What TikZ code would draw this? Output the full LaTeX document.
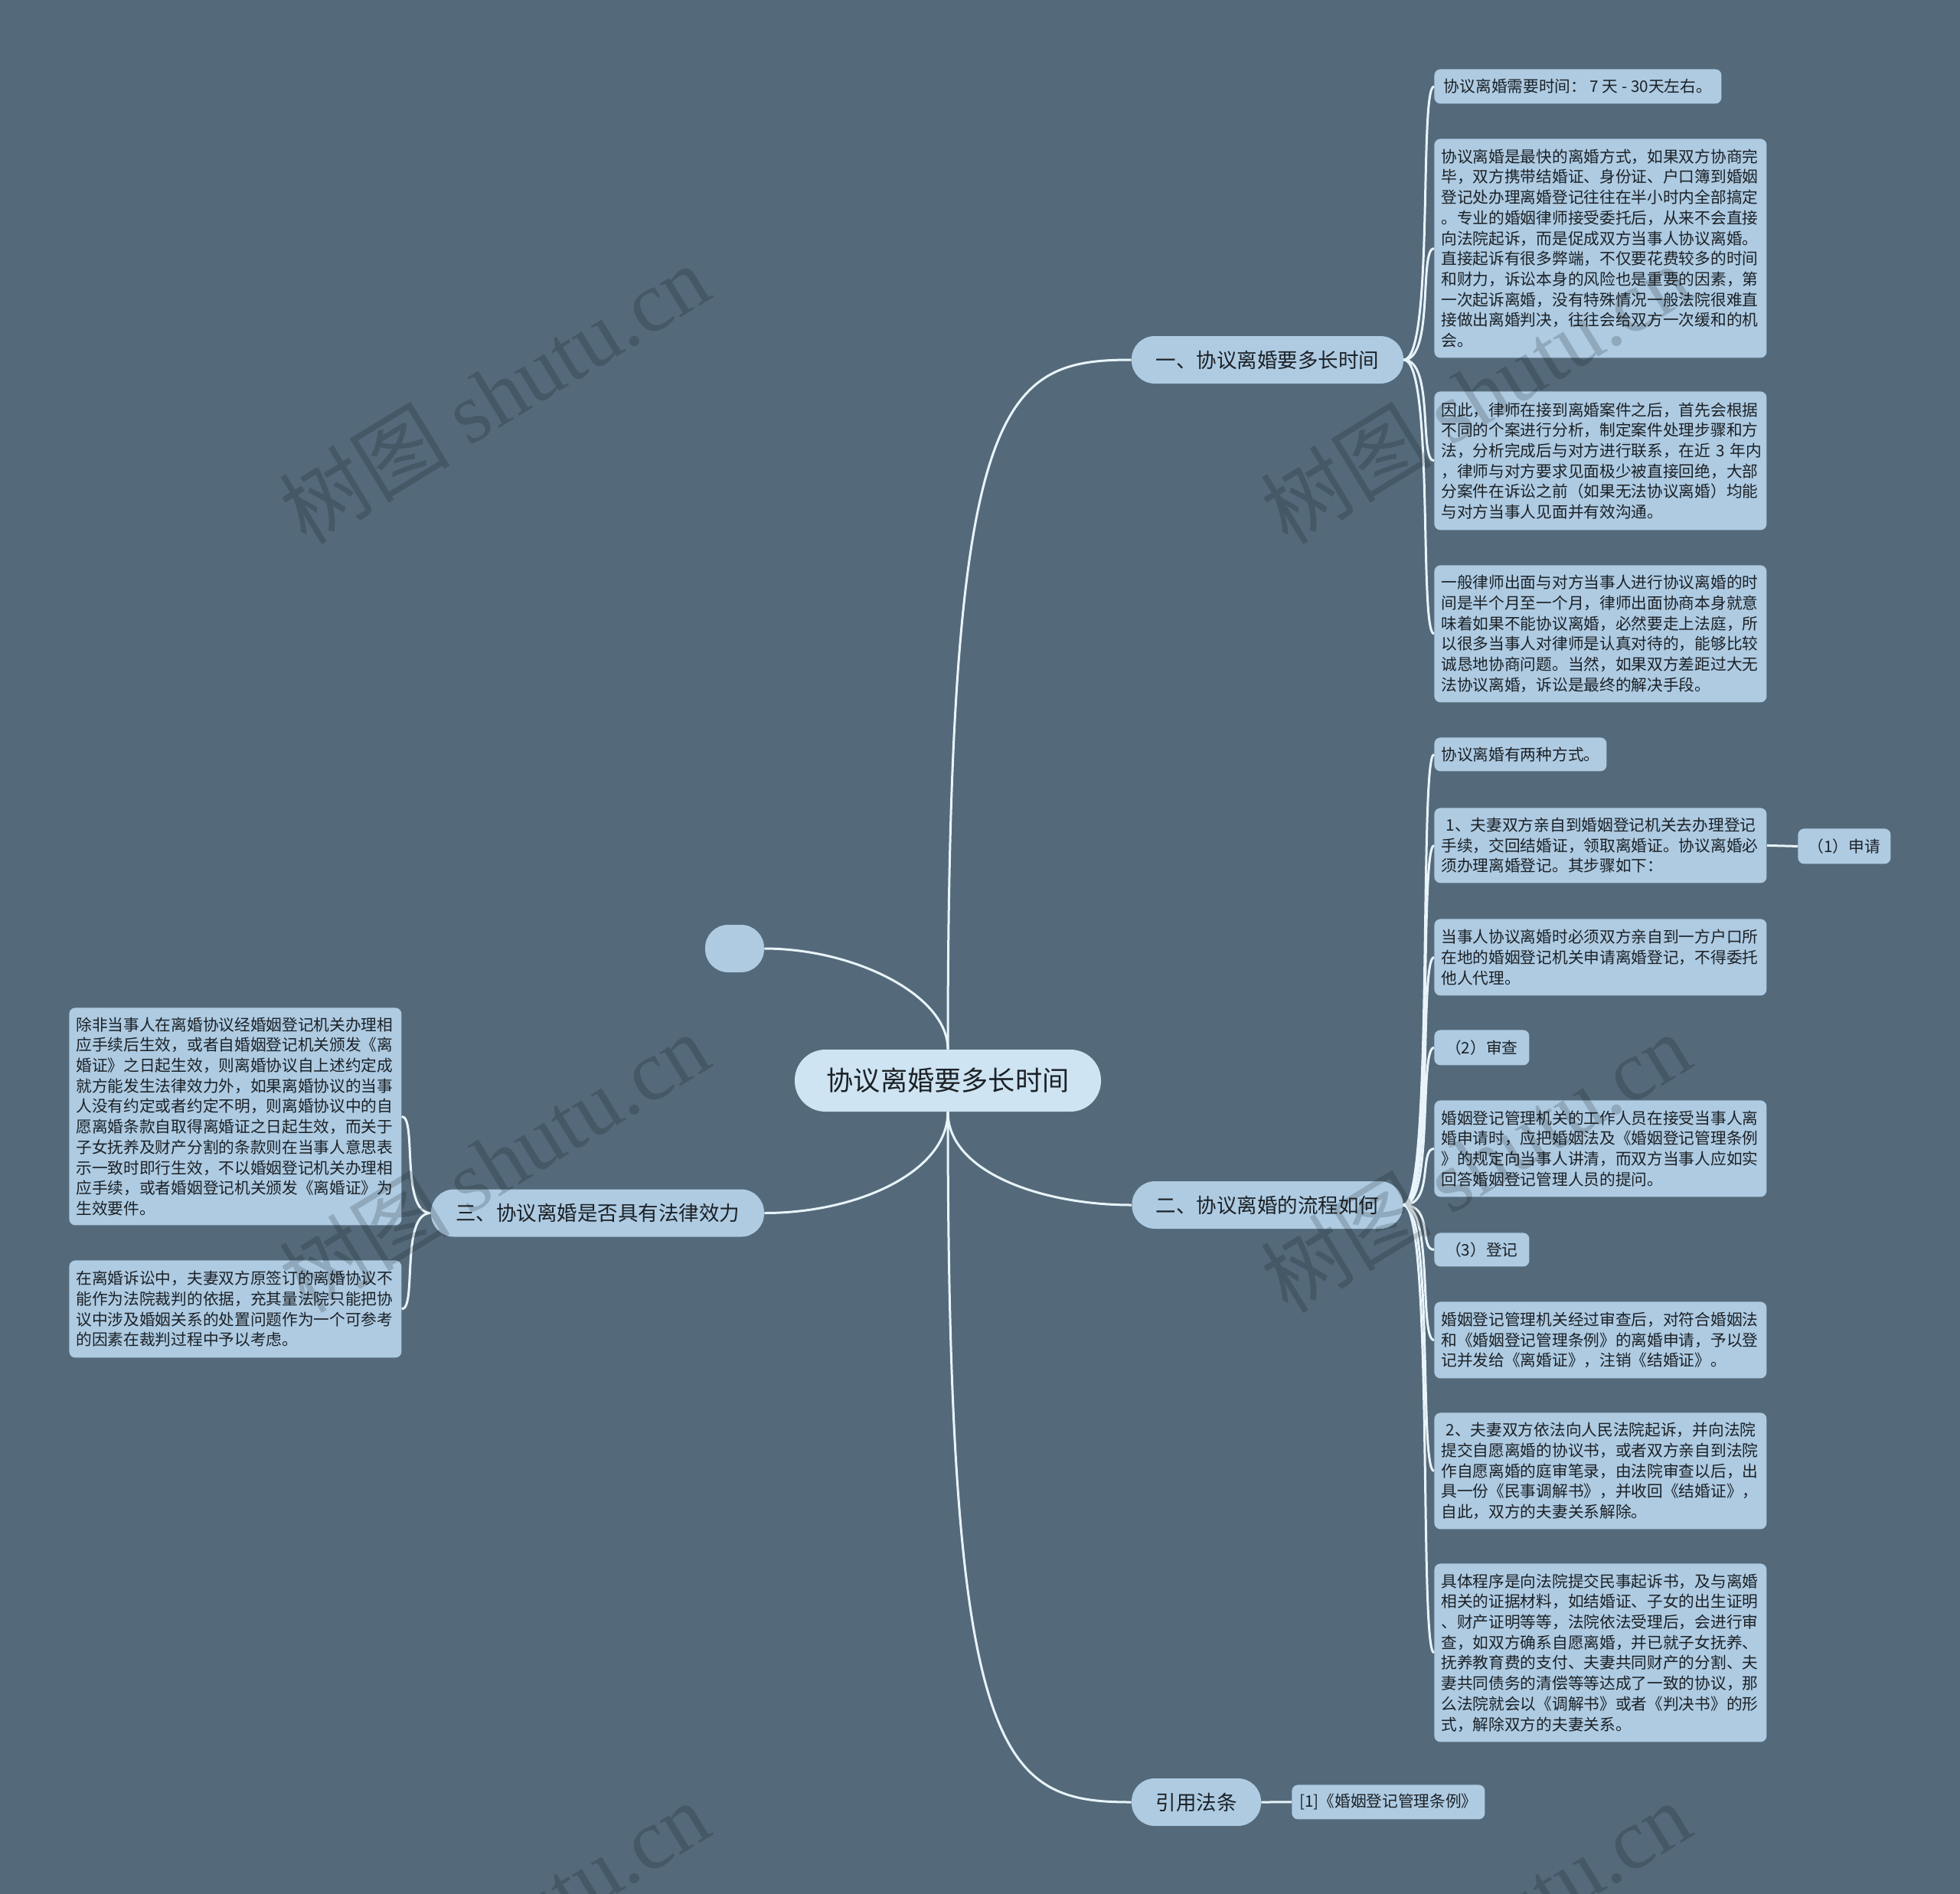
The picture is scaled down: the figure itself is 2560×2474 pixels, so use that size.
\documentclass[tikz,border=0pt]{standalone}
\usepackage{fontspec}
\setmainfont{Noto Sans CJK SC}
\newfontfamily\wmlat{Liberation Serif}
\definecolor{bgc}{RGB}{84,106,122}
\definecolor{leafc}{RGB}{174,203,226}
\definecolor{ctrc}{RGB}{206,228,242}
\definecolor{linec}{RGB}{232,244,250}
\definecolor{txtc}{RGB}{28,33,38}
\begin{document}
\begin{tikzpicture}[x=0.5pt,y=-0.5pt,
  leafbox/.style={fill=leafc, text=txtc, rounded corners=4pt, anchor=north west,
    align=left, inner xsep=4.5pt, inner ysep=4pt, text width=208pt,
    font=\fontsize{10.35pt}{13.35pt}\selectfont},
  linebox/.style={fill=leafc, text=txtc, rounded corners=4pt, anchor=north west,
    inner xsep=4.5pt, inner ysep=4pt, font=\fontsize{10.35pt}{13.35pt}\selectfont},
  smallbox/.style={fill=leafc, text=txtc, rounded corners=4pt, anchor=north west,
    align=center, inner sep=0pt, font=\fontsize{10.35pt}{13.35pt}\selectfont},
  topicbox/.style={fill=leafc, text=txtc, rounded corners=15pt, minimum height=31pt,
    inner sep=0pt, font=\fontsize{13.25pt}{16pt}\selectfont},
  centerbox/.style={fill=ctrc, text=txtc, rounded corners=20pt, minimum height=40.5pt,
    minimum width=200pt, inner sep=0pt, font=\fontsize{17.6pt}{21pt}\selectfont},
  conn/.style={draw=linec, line width=1.5pt},
  wm/.style={rotate=31.4, text=black, opacity=0.17, inner sep=0pt,
    font=\fontsize{56pt}{64pt}\selectfont}
]
\useasboundingbox (0,0) rectangle (2560,2474);
\fill[bgc] (0,0) rectangle (2560,2474);

% central and main topics
\node[centerbox] (ctr) at (1238,1411.5) {协议离婚要多长时间};
\node[topicbox, minimum width=177.5pt] (one) at (1655.5,470) {一、协议离婚要多长时间};
\node[topicbox, minimum width=177pt] (two) at (1655.5,1574) {二、协议离婚的流程如何};
\node[topicbox, minimum width=84.5pt] (yin) at (1562.5,2354) {引用法条};
\node[topicbox, minimum width=217.5pt] (three) at (780.5,1584.5) {三、协议离婚是否具有法律效力};
\node[topicbox, minimum width=38.5pt] (empty) at (959.5,1239) {};

% branch one leaves
\node[linebox, minimum width=187.5pt, minimum height=22.5pt] (a1) at (1873,90) {协议离婚需要时间： 7 天 - 30天左右。};
\node[leafbox, minimum height=143pt] (a2) at (1873,181) {协议离婚是最快的离婚方式，如果双方协商完\\毕，双方携带结婚证、身份证、户口簿到婚姻\\登记处办理离婚登记往往在半小时内全部搞定\\。专业的婚姻律师接受委托后，从来不会直接\\向法院起诉，而是促成双方当事人协议离婚。\\直接起诉有很多弊端，不仅要花费较多的时间\\和财力，诉讼本身的风险也是重要的因素，第\\一次起诉离婚，没有特殊情况一般法院很难直\\接做出离婚判决，往往会给双方一次缓和的机\\会。};
\node[leafbox, minimum height=90.5pt] (a3) at (1873,511) {因此，律师在接到离婚案件之后，首先会根据\\不同的个案进行分析，制定案件处理步骤和方\\\mbox{法，分析完成后与对方进行联系，在近 3 年内}\\，律师与对方要求见面极少被直接回绝，大部\\分案件在诉讼之前（如果无法协议离婚）均能\\与对方当事人见面并有效沟通。};
\node[leafbox, minimum height=89.5pt] (a4) at (1873,738) {一般律师出面与对方当事人进行协议离婚的时\\间是半个月至一个月，律师出面协商本身就意\\味着如果不能协议离婚，必然要走上法庭，所\\以很多当事人对律师是认真对待的，能够比较\\诚恳地协商问题。当然，如果双方差距过大无\\法协议离婚，诉讼是最终的解决手段。};

% branch two leaves
\node[linebox, minimum width=112.5pt, minimum height=22pt] (b1) at (1873,963) {协议离婚有两种方式。};
\node[leafbox, minimum height=49pt] (b2) at (1873,1055) {\hspace*{0.3em}1、夫妻双方亲自到婚姻登记机关去办理登记\\手续，交回结婚证，领取离婚证。协议离婚必\\须办理离婚登记。其步骤如下：};
\node[smallbox, minimum width=60.5pt, minimum height=23pt] (b2c) at (2348,1082) {（1）申请};
\node[leafbox, minimum height=50pt] (b3) at (1873,1200) {当事人协议离婚时必须双方亲自到一方户口所\\在地的婚姻登记机关申请离婚登记，不得委托\\他人代理。};
\node[smallbox, minimum width=62pt, minimum height=23pt] (b4) at (1873,1345) {（2）审查};
\node[leafbox, minimum height=63pt] (b5) at (1873,1437) {婚姻登记管理机关的工作人员在接受当事人离\\婚申请时，应把婚姻法及《婚姻登记管理条例\\》的规定向当事人讲清，而双方当事人应如实\\回答婚姻登记管理人员的提问。};
\node[smallbox, minimum width=62pt, minimum height=22pt] (b6) at (1873,1610) {（3）登记};
\node[leafbox, minimum height=50pt] (b7) at (1873,1700) {婚姻登记管理机关经过审查后，对符合婚姻法\\和《婚姻登记管理条例》的离婚申请，予以登\\记并发给《离婚证》，注销《结婚证》。};
\node[leafbox, minimum height=76pt] (b8) at (1873,1845) {\hspace*{0.3em}2、夫妻双方依法向人民法院起诉，并向法院\\提交自愿离婚的协议书，或者双方亲自到法院\\作自愿离婚的庭审笔录，由法院审查以后，出\\具一份《民事调解书》，并收回《结婚证》，\\自此，双方的夫妻关系解除。};
\node[leafbox, minimum height=116.5pt] (b9) at (1873,2042) {具体程序是向法院提交民事起诉书，及与离婚\\相关的证据材料，如结婚证、子女的出生证明\\、财产证明等等，法院依法受理后，会进行审\\查，如双方确系自愿离婚，并已就子女抚养、\\抚养教育费的支付、夫妻共同财产的分割、夫\\妻共同债务的清偿等等达成了一致的协议，那\\么法院就会以《调解书》或者《判决书》的形\\式，解除双方的夫妻关系。};

% branch three leaves
\node[leafbox, minimum height=142pt] (c1) at (90,1316) {除非当事人在离婚协议经婚姻登记机关办理相\\应手续后生效，或者自婚姻登记机关颁发《离\\婚证》之日起生效，则离婚协议自上述约定成\\就方能发生法律效力外，如果离婚协议的当事\\人没有约定或者约定不明，则离婚协议中的自\\愿离婚条款自取得离婚证之日起生效，而关于\\子女抚养及财产分割的条款则在当事人意思表\\示一致时即行生效，不以婚姻登记机关办理相\\应手续，或者婚姻登记机关颁发《离婚证》为\\生效要件。};
\node[leafbox, minimum height=63.5pt] (c2) at (90,1646) {在离婚诉讼中，夫妻双方原签订的离婚协议不\\能作为法院裁判的依据，充其量法院只能把协\\议中涉及婚姻关系的处置问题作为一个可参考\\的因素在裁判过程中予以考虑。};

% reference leaf
\node[linebox, minimum width=126pt, minimum height=22.5pt] (d1) at (1687,2331) {[1]《婚姻登记管理条例》};

% main connectors
\draw[conn] (ctr.north) .. controls +(0,-850) and +(-170,0) .. (one.west);
\draw[conn] (ctr.north) .. controls +(0,-71) and +(117,0) .. (empty.east);
\draw[conn] (ctr.south) .. controls +(0,78) and +(122,0) .. (three.east);
\draw[conn] (ctr.south) .. controls +(0,78) and +(-119,0) .. (two.west);
\draw[conn] (ctr.south) .. controls +(0,850) and +(-170,0) .. (yin.west);

% leaf connectors
\foreach \n in {a1,a2,a3,a4}
  \draw[conn] (one.east) .. controls +(40,0) and +(-20,0) .. (\n.west);
\foreach \n in {b1,b2,b3,b4,b5,b6,b7,b8,b9}
  \draw[conn] (two.east) .. controls +(40,0) and +(-20,0) .. (\n.west);
\foreach \n in {c1,c2}
  \draw[conn] (three.west) .. controls +(-40,0) and +(20,0) .. (\n.east);
\draw[conn] (b2.east) -- (b2c.west);
\draw[conn] (yin.east) -- (d1.west);

% watermarks
\node[wm] (w1) at (645,514) {树图 {\wmlat shutu.cn}};
\node[wm] (w2) at (1927,514) {树图 {\wmlat shutu.cn}};
\node[wm] (w3) at (645,1518) {树图 {\wmlat shutu.cn}};
\node[wm] (w4) at (1927,1518) {树图 {\wmlat shutu.cn}};
\node[wm] (w5) at (645,2522) {树图 {\wmlat shutu.cn}};
\node[wm] (w6) at (1927,2522) {树图 {\wmlat shutu.cn}};
\end{tikzpicture}
\end{document}
